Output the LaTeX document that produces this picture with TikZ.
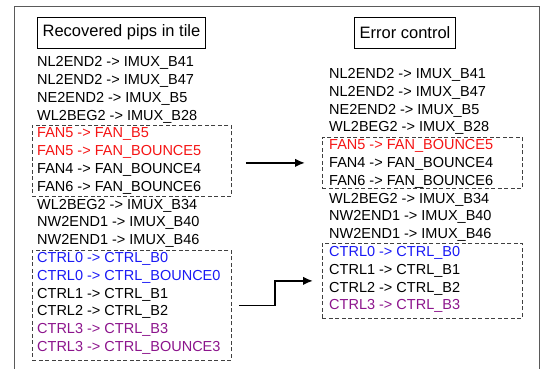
\documentclass[tikz,border=0pt]{standalone}
\usepackage{fontspec}
\setmainfont{Liberation Sans}
\usetikzlibrary{arrows.meta,positioning,calc}

\definecolor{pipred}{RGB}{245,20,20}
\definecolor{pipblue}{RGB}{25,25,245}
\definecolor{pippurple}{RGB}{140,20,140}
\definecolor{framegray}{RGB}{90,90,90}

\begin{document}
\begin{tikzpicture}[x=1pt,y=-1pt,>={Latex[length=10pt,width=8.5pt]},
                    pip/.style={anchor=base west,inner sep=0pt,
                                font=\fontsize{14.5}{16}\selectfont},
                    title/.style={draw,line width=0.8pt,minimum height=31pt,
                                  inner xsep=5pt,font=\fontsize{16.5}{19}\selectfont},
                    grp/.style={draw=black!75,dash pattern=on 4pt off 2.5pt,
                                line width=0.8pt,anchor=north west,inner sep=0pt},
                    flow/.style={->,line width=1.8pt}]

  \useasboundingbox (0,0) rectangle (543,369);
  \draw[framegray,line width=1pt] (14,369) -- (14,7) -- (539,7) -- (539,369);

  \node[title] (recov) at (121.5,32.5) {Recovered pips in tile};
  \node[title] (errc)  at (405,32.5)   {Error control};

  % pips found in the tile
  \foreach \c/\t [count=\i] in {black/NL2END2 -> IMUX\_B41, black/NL2END2 -> IMUX\_B47,
      black/NE2END2 -> IMUX\_B5, black/WL2BEG2 -> IMUX\_B28,
      pipred/FAN5 -> FAN\_B5, pipred/FAN5 -> FAN\_BOUNCE5,
      black/FAN4 -> FAN\_BOUNCE4, black/FAN6 -> FAN\_BOUNCE6,
      black/WL2BEG2 -> IMUX\_B34, black/NW2END1 -> IMUX\_B40, black/NW2END1 -> IMUX\_B46,
      pipblue/CTRL0 -> CTRL\_B0, pipblue/CTRL0 -> CTRL\_BOUNCE0,
      black/CTRL1 -> CTRL\_B1, black/CTRL2 -> CTRL\_B2,
      pippurple/CTRL3 -> CTRL\_B3, pippurple/CTRL3 -> CTRL\_BOUNCE3}
    \node[pip,text=\c] (l\i) at (37,{66.7+17.8*(\i-1)}) {\t};

  % after error control
  \foreach \c/\t [count=\i] in {black/NL2END2 -> IMUX\_B41, black/NL2END2 -> IMUX\_B47,
      black/NE2END2 -> IMUX\_B5, black/WL2BEG2 -> IMUX\_B28,
      pipred/FAN5 -> FAN\_BOUNCE5, black/FAN4 -> FAN\_BOUNCE4, black/FAN6 -> FAN\_BOUNCE6,
      black/WL2BEG2 -> IMUX\_B34, black/NW2END1 -> IMUX\_B40, black/NW2END1 -> IMUX\_B46,
      pipblue/CTRL0 -> CTRL\_B0, black/CTRL1 -> CTRL\_B1,
      black/CTRL2 -> CTRL\_B2, pippurple/CTRL3 -> CTRL\_B3}
    \node[pip,text=\c] (r\i) at (329,{78.5+17.8*(\i-1)}) {\t};

  \node[grp,minimum width=199pt,minimum height=71pt]  (fanL)  at (32,125)  {};
  \node[grp,minimum width=199pt,minimum height=110pt] (ctrlL) at (32,250)  {};
  \node[grp,minimum width=200pt,minimum height=51pt]  (fanR)  at (322,137) {};
  \node[grp,minimum width=200pt,minimum height=75pt]  (ctrlR) at (322,243) {};

  \draw[flow,shorten <=14pt,shorten >=17pt] (fanL.east |- fanR.west) -- (fanR.west);
  \draw[flow,shorten <=7pt,shorten >=9pt] (ctrlL.east) -- ++(43,0) |- (ctrlR.west);
\end{tikzpicture}
\end{document}
